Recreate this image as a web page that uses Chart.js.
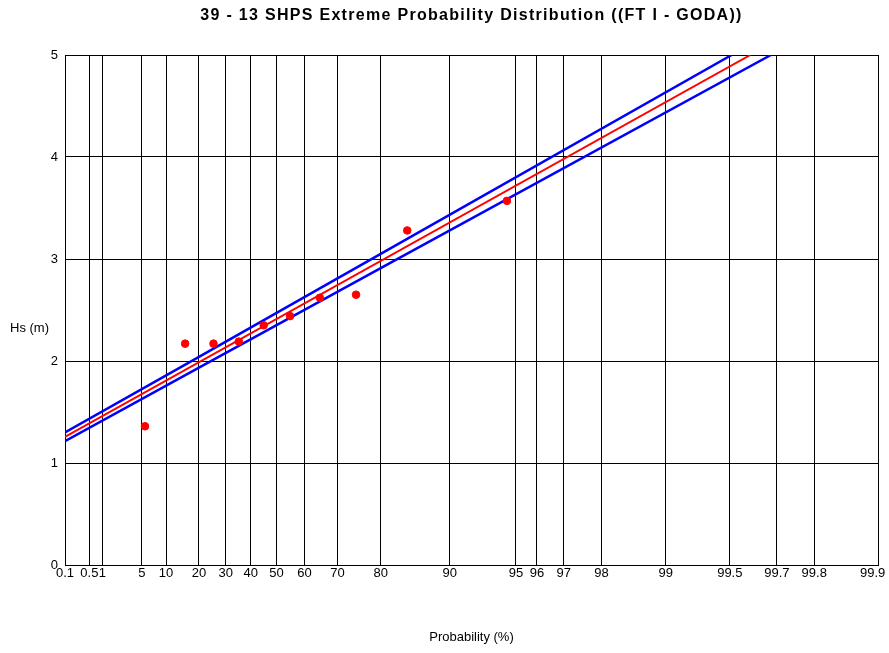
<!DOCTYPE html>
<html>
<head>
<meta charset="utf-8">
<script src="https://cdn.jsdelivr.net/npm/chart.js@4/dist/chart.umd.min.js"></script>
<style>
  html, body { margin: 0; padding: 0; background: #fff; }
  #wrap { width: 889px; height: 653px; }
</style>
</head>
<body>
<div id="wrap"><canvas id="probChart"></canvas></div>
<script>
// probability axis ticks (%)
const probTicks = [0.1, 0.5, 1, 5, 10, 20, 30, 40, 50, 60, 70, 80, 90, 95, 96, 97, 98, 99, 99.5, 99.7, 99.8, 99.9];
const probLabels = ["0.1", "0.5", "1", "5", "10", "20", "30", "40", "50", "60", "70", "80", "90", "95", "96", "97", "98", "99", "99.5", "99.7", "99.8", "99.9"];
const hsTicks = [0, 1, 2, 3, 4, 5];

// observed storms (plotting position %, Hs m)
const obsProb = [5.53, 15.4, 25.3, 35.2, 45.1, 55.0, 64.9, 74.7, 84.6, 94.5];
const obsHs = [1.36, 2.17, 2.17, 2.19, 2.35, 2.44, 2.62, 2.65, 3.28, 3.57];

// fitted line and confidence band
const fitProb = [0.1, 99.6];
const fitHs = [1.255, 5.0];
const upperProb = [0.1, 20, 80, 99.51];
const upperHs = [1.30, 2.04, 3.05, 5.0];
const lowerProb = [0.1, 20, 80, 99.68];
const lowerHs = [1.215, 1.935, 2.91, 5.0];

// Gumbel reduced variate for a probability in %
function gumbel(pct) {
  return -Math.log(-Math.log(pct / 100));
}
function toPoints(probs, vals) {
  return probs.map((p, i) => ({x: gumbel(p), y: vals[i]}));
}

Chart.defaults.font.family = "'Liberation Sans', Arial, sans-serif";
Chart.defaults.font.size = 13;
Chart.defaults.color = "#000";

const labelPlugin = {
  id: "labels",
  afterDraw(chart) {
    const ctx = chart.ctx;
    const a = chart.chartArea;
    ctx.save();
    ctx.fillStyle = "#000";
    ctx.textAlign = "center";
    ctx.textBaseline = "middle";
    ctx.font = "bold 16px 'Liberation Sans', Arial, sans-serif";
    ctx.letterSpacing = "1.3px";
    ctx.fillText("39 - 13 SHPS Extreme Probability Distribution ((FT I - GODA))", (a.left + a.right) / 2, 16);
    ctx.letterSpacing = "0px";
    ctx.font = "13px 'Liberation Sans', Arial, sans-serif";
    ctx.fillText("Probability (%)", (a.left + a.right) / 2, 637);
    ctx.textAlign = "left";
    ctx.fillText("Hs (m)", 10, 328);
    ctx.restore();
  }
};

new Chart("probChart", {
  type: "scatter",
  data: {
    datasets: [
      {
        data: toPoints(obsProb, obsHs),
        backgroundColor: "#ff0000",
        borderColor: "#ff0000",
        pointRadius: 3.8,
        pointHoverRadius: 3.8,
        order: 0
      },
      {
        data: toPoints(fitProb, fitHs),
        showLine: true,
        borderColor: "#ff0000",
        borderWidth: 2,
        pointRadius: 0,
        order: 1
      },
      {
        data: toPoints(upperProb, upperHs),
        showLine: true,
        borderColor: "#0000ff",
        borderWidth: 2.5,
        pointRadius: 0,
        order: 2
      },
      {
        data: toPoints(lowerProb, lowerHs),
        showLine: true,
        borderColor: "#0000ff",
        borderWidth: 2.5,
        pointRadius: 0,
        order: 3
      }
    ]
  },
  options: {
    responsive: true,
    maintainAspectRatio: false,
    animation: false,
    layout: {padding: {top: 55, right: 11, left: 0, bottom: 0}},
    plugins: {
      legend: {display: false},
      title: {display: false},
      tooltip: {enabled: false}
    },
    scales: {
      x: {
        type: "linear",
        min: gumbel(0.1),
        max: gumbel(99.9),
        afterBuildTicks(scale) {
          scale.ticks = probTicks.map(p => ({value: gumbel(p)}));
        },
        afterFit(scale) {
          scale.height = 88;
          scale.paddingLeft = 0;
          scale.paddingRight = 0;
        },
        ticks: {
          autoSkip: false,
          maxRotation: 0,
          padding: 1,
          // keep the last label inside the canvas
          callback: (v, i) => i === probLabels.length - 1 ? probLabels[i] + "   " : probLabels[i]
        },
        grid: {color: "#000", lineWidth: 1, tickLength: 0},
        border: {color: "#000", width: 1}
      },
      y: {
        min: 0,
        max: 5,
        afterBuildTicks(scale) {
          scale.ticks = hsTicks.map(v => ({value: v}));
        },
        afterFit(scale) {
          scale.width = 65;
        },
        ticks: {padding: 7},
        grid: {color: "#000", lineWidth: 1, tickLength: 0},
        border: {color: "#000", width: 1}
      }
    }
  },
  plugins: [labelPlugin]
});
</script>
</body>
</html>
